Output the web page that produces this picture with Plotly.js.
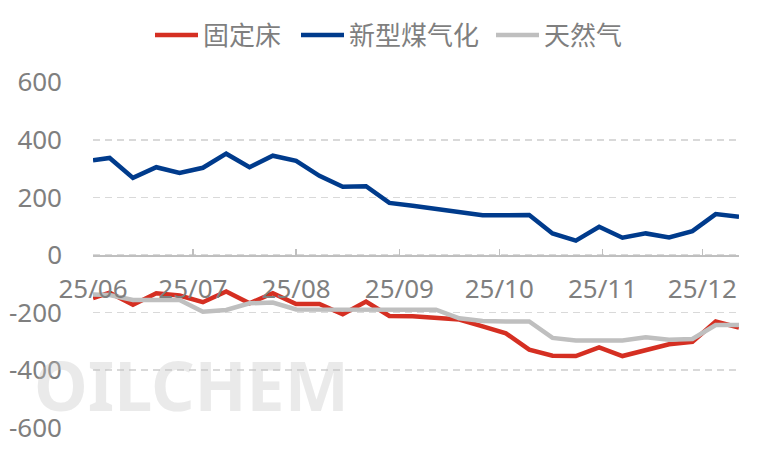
<!DOCTYPE html>
<html><head><meta charset="utf-8">
<script src="https://cdn.plot.ly/plotly-3.0.1.min.js"></script>
<style>html,body{margin:0;padding:0;background:#fff}#chart{width:767px;height:456px}</style>
</head><body><div id="chart"></div>
<script>
const dates = ['2025-06-01','2025-06-06','2025-06-13','2025-06-20','2025-06-27',
  '2025-07-04','2025-07-11','2025-07-18','2025-07-25','2025-08-01','2025-08-08',
  '2025-08-15','2025-08-22','2025-08-29','2025-09-05','2025-09-12','2025-09-19',
  '2025-09-26','2025-10-03','2025-10-10','2025-10-17','2025-10-24','2025-10-31',
  '2025-11-07','2025-11-14','2025-11-21','2025-11-28','2025-12-05','2025-12-12'];
const fixedBed = [-150,-131,-173,-133,-141,-164,-127,-168,-133,-170,-170,-206,-162,-212,
  -213,-219,-224,-248,-272,-329,-350,-351,-321,-351,-329,-310,-302,-231,-252];
const newCoalGas = [329,337,268,305,285,303,352,305,345,327,275,237,239,181,
  171,161,150,138,138,139,75,50,98,60,75,61,83,142,133];
const naturalGas = [-137,-139,-156,-156,-156,-197,-191,-168,-165,-189,-189,-189,-189,-189,
  -189,-190,-220,-229,-231,-231,-288,-297,-297,-297,-286,-294,-292,-243,-243];
const seriesNames = ['固定床','新型煤气化','天然气'];
const seriesColors = ['#d52f22','#003b8c','#bfbfbf'];
const yTickVals = [-600,-400,-200,0,200,400,600];
const yTickText = ['-600','-400','-200','0','200','400','600'];
const watermark = 'OILCHEM';

const FONT = '"Noto Sans", "Noto Sans CJK SC", sans-serif';
const FS = 26;
const TXT = '#7f7f7f';
const seriesData = [fixedBed, newCoalGas, naturalGas];
const legendIds = ['legend', 'legend2', 'legend3'];
const traces = seriesData.map((ys, i) => ({
  type: 'scatter', mode: 'lines', x: dates, y: ys, name: seriesNames[i],
  legend: legendIds[i],
  line: {color: seriesColors[i], width: 4.5}, hoverinfo: 'skip'
}));

function legendAt(px) {
  return {orientation: 'h', xref: 'container', yref: 'container',
    x: px / 767, y: 1 - 35 / 456, xanchor: 'left', yanchor: 'middle',
    font: {family: FONT, size: FS, color: TXT}, itemwidth: 43,
    bgcolor: 'rgba(0,0,0,0)'};
}

const layout = {
  width: 767, height: 456,
  margin: {l: 93, r: 28, t: 82, b: 28},
  paper_bgcolor: '#fff', plot_bgcolor: '#fff',
  font: {family: FONT, size: FS, color: TXT},
  showlegend: true,
  legend: legendAt(150),
  legend2: legendAt(296),
  legend3: legendAt(491),
  xaxis: {type: 'date', range: ['2025-06-01', '2025-12-12'], tick0: '2025-06-01',
    dtick: 'M1', tickformat: '%y/%m', anchor: 'free', position: 0.5,
    showline: true, linecolor: '#bfbfbf', linewidth: 1.7,
    ticks: 'inside', ticklen: 6, tickwidth: 1.5, tickcolor: '#bfbfbf',
    showgrid: false, zeroline: false, ticklabelstandoff: 10,
    tickfont: {family: FONT, size: FS, color: TXT}, fixedrange: true},
  yaxis: {range: [-601, 601], tickmode: 'array', tickvals: yTickVals, ticktext: yTickText,
    showgrid: true, gridcolor: '#d9d9d9', gridwidth: 1.5, griddash: '7px,5px',
    zeroline: false, showline: false, ticks: '', ticklabelstandoff: 30,
    tickfont: {family: FONT, size: FS, color: TXT}, fixedrange: true},
  annotations: [{text: '<b>' + watermark + '</b>', xref: 'paper', yref: 'paper',
    x: (191 - 93) / 646, y: (456 - 28 - 384) / 346, showarrow: false,
    xanchor: 'center', yanchor: 'middle',
    font: {family: FONT, size: 68, color: 'rgba(195,195,195,0.35)'}}]
};
Plotly.newPlot('chart', traces, layout, {displayModeBar: false, staticPlot: true});
</script></body></html>
